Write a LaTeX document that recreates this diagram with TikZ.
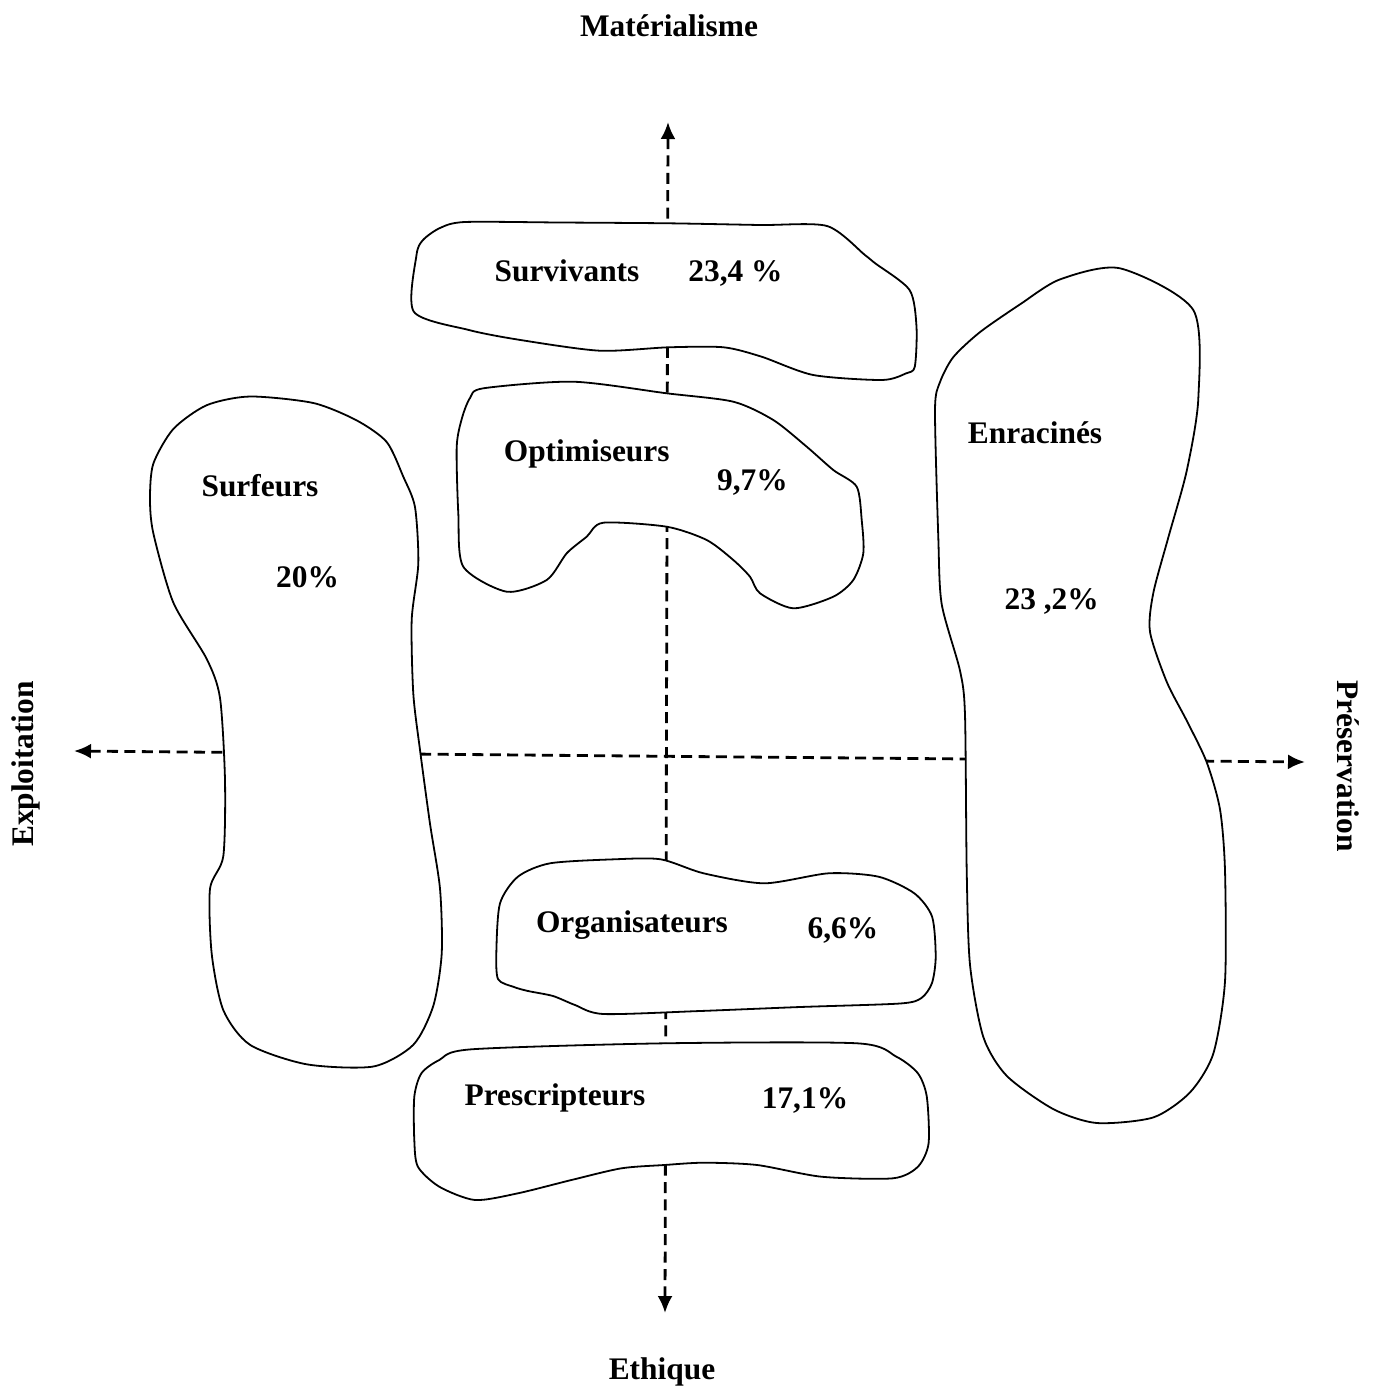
\documentclass[tikz,border=0pt]{standalone}
\usepackage{fontspec}
\setmainfont{Liberation Serif}
\usetikzlibrary{arrows.meta}
\begin{document}
\begin{tikzpicture}[x=0.5pt,y=-0.5pt,
  >={Latex[length=8.5pt,width=7.5pt]},
  axis/.style={line width=1.4pt, dash pattern=on 5.5pt off 3.2pt, <->},
  blob/.style={draw=black, fill=white, line width=0.9pt, line join=round},
  lbl/.style={font=\bfseries\fontsize{15.7}{18}\selectfont, inner sep=0pt, anchor=base},
]
\useasboundingbox (0,0) rectangle (1376,1387);

% axis end points
\coordinate (N) at (668,122);
\coordinate (S) at (665,1313);
\coordinate (W) at (74,751);
\coordinate (E) at (1305,762);

% the two dashed axes
\draw[axis] (S) -- (N);
\draw[axis] (W) -- (E);

% Survivants
\draw[blob] plot[smooth cycle, tension=0.45] coordinates {
  (413.8,311.7) (416.5,255) (423,240) (440,228) (465,222) (560,222.5) (668.6,223.3)
  (760,225) (827,226) (864.9,255) (875.2,263.3) (909.6,290) (916.5,326.7)
  (914.8,366.7) (906.2,373.3) (882.1,380) (813.2,375) (761.6,356.7)
  (723.7,347.3) (668.6,347.3) (599.7,350.7) (520.5,340) (468.9,330)};

% Optimiseurs
\draw[blob] plot[smooth cycle, tension=0.45] coordinates {
  (483.3,388.3) (573.3,381.7) (666.7,393.3) (733.3,401.7) (773.3,420)
  (806.7,446.7) (833.3,470) (856.7,486.7) (861.7,520) (863.3,553.3)
  (853.3,580) (833.3,596.7) (793.3,608.3) (760,593.3) (750,576.7)
  (733.3,560) (706.7,540) (666.7,526.7) (603.3,522.7) (586.7,536.7)
  (566.7,553.3) (546.7,580) (506.7,591.7) (463.3,566.7) (458.3,513.3)
  (456.7,446.7) (462,418) (470,398)};

% Surfeurs
\draw[blob] plot[smooth cycle, tension=0.45] coordinates {
  (250,396.5) (313.3,403) (356.7,420.4) (386.7,442) (403.3,476.7)
  (415,507.1) (418.3,563.5) (411.7,619.8) (413.3,693.6) (420,749.9)
  (430,823.7) (440,888.7) (441.7,953.7) (433.3,1005.8) (413.3,1044.8)
  (373.3,1066.5) (306.7,1064.3) (250,1044.8) (223.3,1010.1) (211.7,953.7)
  (210,888.7) (223.3,856.2) (225,780.3) (220,697.9) (206.7,658.9)
  (173.3,602.5) (153.3,533.1) (150,498.4) (153.3,463.7) (173.3,429)
  (206.7,405.2)};

% Enracines
\draw[blob] plot[smooth cycle, tension=0.45] coordinates {
  (1120,268.3) (1193.3,310) (1198.3,398.7) (1186.7,470.9) (1168.3,537.5)
  (1153.3,593) (1150,631.8) (1166.7,681.8) (1186.7,720.6) (1206.7,762.2)
  (1220,809.4) (1225,870.4) (1225,981.4) (1213.3,1053.6) (1190,1092.4)
  (1153.3,1117.4) (1096.7,1123) (1053.3,1109.1) (1006.7,1075.8) (983.3,1036.9)
  (970,964.8) (966.7,870.4) (965,715) (960,670.7) (941.7,604.1)
  (938.3,537.5) (935,409.8) (940,382.1) (953.3,357.1) (980,332.1)
  (1020,304.4) (1060,279.4)};

% Organisateurs
\draw[blob] plot[smooth cycle, tension=0.45] coordinates {
  (660.7,859.3) (703.6,873.3) (764.3,883.3) (828.6,873.3) (878.6,876.7)
  (914.3,893.3) (932.1,916.7) (935.7,956.7) (932,983) (921.4,998)
  (900,1003.5) (800,1007) (700,1011) (603.6,1014)
  (575,1005) (553,996) (528,991) (514,987) (498,979)
  (496.4,950) (500,903.3) (517.9,876.7) (550,863.3) (614.3,859.3)};

% Prescripteurs
\draw[blob] plot[smooth cycle, tension=0.45] coordinates {
  (471.4,1049.3) (664.3,1043.3) (857.1,1043.3) (896.4,1056.7) (917.9,1073.3)
  (926.8,1096.7) (928.6,1143.3) (917.9,1166.7) (892.9,1178.3) (821.4,1176.7)
  (757.1,1165) (703.6,1162.7) (664.3,1165) (621.4,1168.3) (571.4,1180)
  (517.9,1193.3) (475,1200) (439.3,1186.7) (417.9,1166.7) (414.3,1140)
  (414.3,1096.7) (421.4,1073.3) (439.3,1060)};

% axis labels
\node[lbl] (mat) at (669,36) {Matérialisme};
\node[lbl] (eth) at (662,1379) {Ethique};
\node[lbl, rotate=90] (exp) at (33,764) {Exploitation};
\node[lbl, rotate=-90] (pre) at (1337,766) {Préservation};

% group labels
\node[lbl] (surv) at (567,281.7) {Survivants};
\node[lbl] (survp) at (735.5,281.7) {23,4 \%};
\node[lbl] (opt) at (586.7,461.7) {Optimiseurs};
\node[lbl] (optp) at (752.5,490) {9,7\%};
\node[lbl] (surf) at (260,496) {Surfeurs};
\node[lbl] (surfp) at (307.5,587) {20\%};
\node[lbl] (enr) at (1035,443) {Enracinés};
\node[lbl] (enrp) at (1051.7,609.6) {23 ,2\%};
\node[lbl] (org) at (632,932.7) {Organisateurs};
\node[lbl] (orgp) at (843,938.3) {6,6\%};
\node[lbl] (pres) at (555,1105) {Prescripteurs};
\node[lbl] (presp) at (805,1108.3) {17,1\%};
\end{tikzpicture}
\end{document}
